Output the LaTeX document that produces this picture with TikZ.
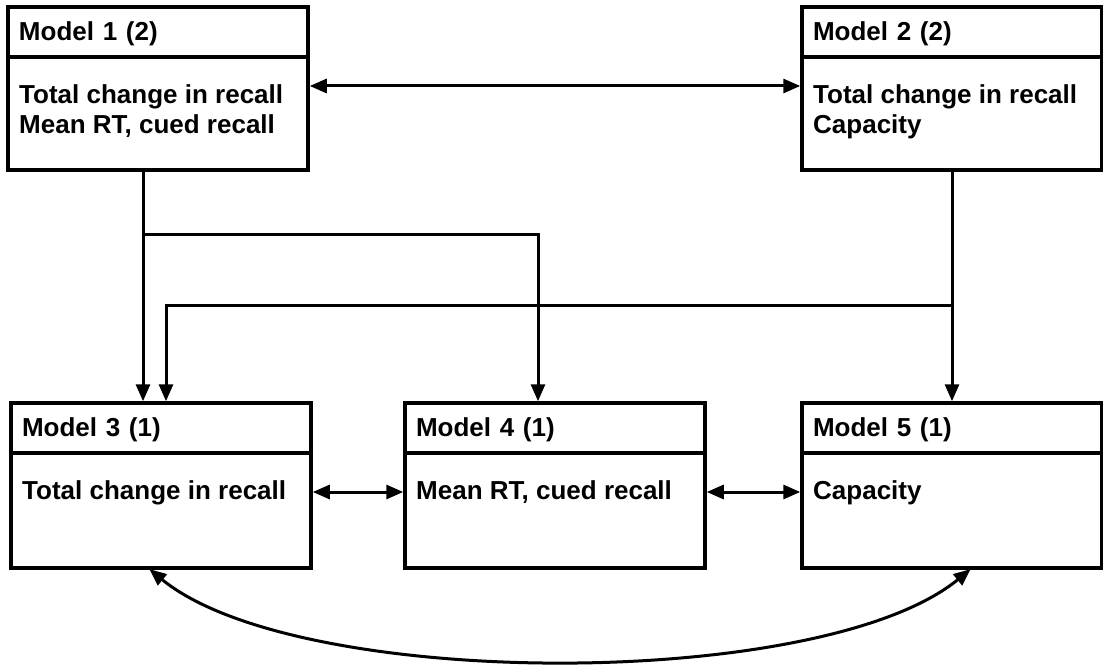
\documentclass[tikz,border=0pt]{standalone}
\usepackage{fontspec}
\setmainfont{Liberation Sans}
\usetikzlibrary{positioning,arrows.meta}

\tikzset{
  head/.style={draw, line width=3.5pt, outer sep=0pt, minimum height=50pt,
    text width=278pt, text height=19pt, text depth=2pt,
    inner xsep=11pt, inner ysep=0pt, align=left, anchor=north west},
  body/.style={draw, line width=3.5pt, outer sep=0pt, minimum width=300pt, inner sep=0pt},
  txt/.style={anchor=north west, inner sep=0pt, align=left},
  arr/.style={line width=3pt, -{Triangle[length=17pt,width=14pt]}, shorten >=1.75pt},
  biarr/.style={line width=3pt, {Triangle[length=17pt,width=14pt]}-{Triangle[length=17pt,width=14pt]},
    shorten >=1.75pt, shorten <=1.75pt},
}

\begin{document}
\begin{tikzpicture}[x=1pt,y=-1pt,font=\fontsize{26}{30}\selectfont\bfseries]
  \useasboundingbox (0,0) rectangle (1103,668);

  \node[head] (m1h) at (8,7) {Model 1 (2)};
  \node[body, minimum height=113pt, below=0pt of m1h] (m1b) {};
  \node[txt] (m1t) at ([xshift=11pt,yshift=-27pt]m1b.north west) {Total change in recall\\Mean RT, cued recall};

  \node[head] (m2h) at (802,7) {Model 2 (2)};
  \node[body, minimum height=113pt, below=0pt of m2h] (m2b) {};
  \node[txt] (m2t) at ([xshift=11pt,yshift=-27pt]m2b.north west) {Total change in recall\\Capacity};

  \node[head] (m3h) at (11,403) {Model 3 (1)};
  \node[body, minimum height=115pt, below=0pt of m3h] (m3b) {};
  \node[txt] (m3t) at ([xshift=11pt,yshift=-27pt]m3b.north west) {Total change in recall};

  \node[head] (m4h) at (405,403) {Model 4 (1)};
  \node[body, minimum height=115pt, below=0pt of m4h] (m4b) {};
  \node[txt] (m4t) at ([xshift=11pt,yshift=-27pt]m4b.north west) {Mean RT, cued recall};

  \node[head] (m5h) at (802,403) {Model 5 (1)};
  \node[body, minimum height=115pt, below=0pt of m5h] (m5b) {};
  \node[txt] (m5t) at ([xshift=11pt,yshift=-27pt]m5b.north west) {Capacity};

  \coordinate (s1) at ([xshift=-15pt]m1b.south);
  \coordinate (j1) at (s1 |- 0,235);
  \coordinate (j2) at (m2b.south |- 0,306);

  \draw[arr] (s1) -- ([xshift=-18pt]m3h.north);
  \draw[arr] (j1) -| ([xshift=-17pt]m4h.north);
  \draw[arr] (m2b.south) -- (m5h.north);
  \draw[arr] (j2) -| ([xshift=5pt]m3h.north);

  \draw[biarr] ([yshift=-29pt]m1b.north east) -- ([yshift=-29pt]m2b.north west);
  \draw[biarr] ([yshift=-39pt]m3b.north east) -- ([yshift=-39pt]m4b.north west);
  \draw[biarr] ([yshift=-39pt]m4b.north east) -- ([yshift=-39pt]m5b.north west);
  \draw[biarr] ([xshift=-13pt]m3b.south) .. controls +(150,123) and +(-150,123) .. ([xshift=20pt]m5b.south);
\end{tikzpicture}
\end{document}
